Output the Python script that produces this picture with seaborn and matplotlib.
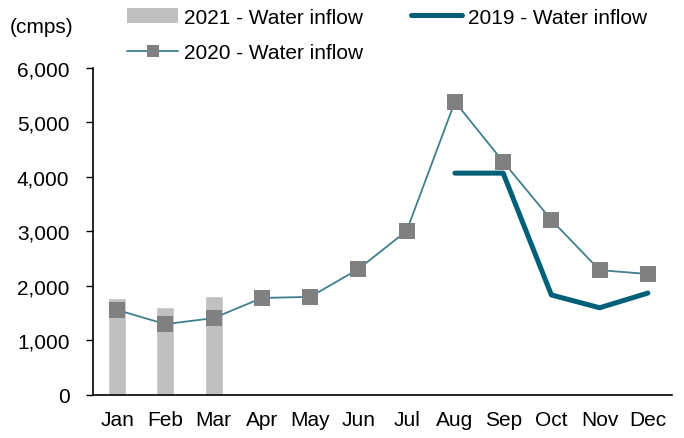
import numpy as np
import pandas as pd
import seaborn as sns
import matplotlib.pyplot as plt
from matplotlib.patches import Patch
from matplotlib.lines import Line2D

# Monthly water inflow (cmps)
months = ['Jan', 'Feb', 'Mar', 'Apr', 'May', 'Jun', 'Jul', 'Aug', 'Sep', 'Oct', 'Nov', 'Dec']
inflow_2021 = [1780, 1620, 1815]
inflow_2020 = [1560, 1300, 1410, 1780, 1800, 2310, 3010, 5380, 4280, 3210, 2290, 2220]
inflow_2019 = [np.nan] * 7 + [4070, 4070, 1835, 1600, 1870]
yticks = [0, 1000, 2000, 3000, 4000, 5000, 6000]

# Colors
bar_color = '#C0C0C0'
line20_color = '#3F7F8F'
marker_color = '#808080'
line19_color = '#005F78'

sns.set_style('white')
plt.rcParams['font.family'] = ['Liberation Sans', 'DejaVu Sans']
plt.rcParams['text.color'] = 'black'
plt.rcParams['xtick.color'] = 'black'
plt.rcParams['ytick.color'] = 'black'

pos = np.arange(len(months))
df21 = pd.DataFrame({'pos': pos[:len(inflow_2021)], 'val': inflow_2021})
df20 = pd.DataFrame({'pos': pos, 'val': inflow_2020})
df19 = pd.DataFrame({'pos': pos, 'val': inflow_2019}).dropna()

fig = plt.figure(figsize=(6.84, 4.39), dpi=100)
ax = fig.add_axes([0.136, 0.098, 0.8465, 0.745])

sns.barplot(data=df21, x='pos', y='val', native_scale=True, width=0.37,
            color=bar_color, saturation=1, ax=ax)
sns.lineplot(data=df20, x='pos', y='val', color=line20_color, linewidth=1.3,
             marker='s', markersize=12, markerfacecolor=marker_color,
             markeredgewidth=0, ax=ax)
sns.lineplot(data=df19, x='pos', y='val', color=line19_color, linewidth=3.6,
             solid_capstyle='round', solid_joinstyle='round', ax=ax)

ax.set_xlim(-0.5, 11.5)
ax.set_ylim(0, 6000)
ax.set_yticks(yticks)
ax.set_yticklabels([f'{v:,}' for v in yticks], fontsize=15)
ax.set_xticks(pos)
ax.set_xticklabels(months, fontsize=15)
ax.set_xticks(np.arange(-0.5, 12, 1), minor=True)
ax.tick_params(axis='x', which='major', length=0, pad=11)
ax.tick_params(axis='x', which='minor', length=5, width=1, direction='out', color='black')
ax.tick_params(axis='y', length=5, width=1, direction='out', color='black', left=True, pad=12)
ax.set_xlabel('')
ax.set_ylabel('')

for side in ['top', 'right']:
    ax.spines[side].set_visible(False)
for side in ['left', 'bottom']:
    ax.spines[side].set_color('black')
    ax.spines[side].set_linewidth(1.2)

handles = [
    Patch(facecolor=bar_color, edgecolor='none'),
    Line2D([], [], color=line20_color, linewidth=1.3, marker='s', markersize=8,
           markerfacecolor=marker_color, markeredgewidth=0),
    Line2D([], [], color=line19_color, linewidth=3.6, solid_capstyle='round'),
]
labels = ['2021 - Water inflow', '2020 - Water inflow', '2019 - Water inflow']
fig.legend(handles, labels, ncol=2, frameon=False, fontsize=15,
           loc='upper left', bbox_to_anchor=(0.186, 0.98), borderaxespad=0, borderpad=0,
           handlelength=2.45, handletextpad=0.29, columnspacing=2.3, labelspacing=0.78)

fig.text(0.0146, 0.938, '(cmps)', fontsize=15, va='center', ha='left')

plt.savefig('out.png', dpi=100)
plt.close()
